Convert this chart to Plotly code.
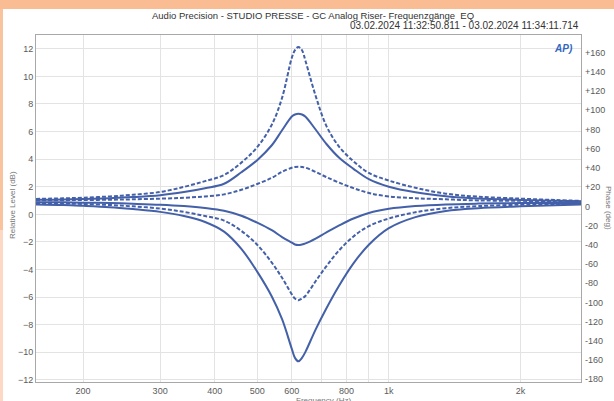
import plotly.graph_objects as go

# ---------------- data ----------------
freq_hz = [156, 180, 200, 230, 260, 300, 340, 380, 420, 460, 500, 540, 570, 600, 610,
           621, 633, 645, 680, 720, 770, 830, 900, 1000, 1150, 1350, 1600, 2000, 2400, 2750]

boost_max = [1.12, 1.16, 1.21, 1.30, 1.42, 1.62, 1.99, 2.41, 2.85, 3.75, 4.87, 6.50, 8.45, 11.35, 11.90,
             12.13, 11.90, 11.10, 8.60, 6.40, 4.90, 3.85, 3.00, 2.45, 1.93, 1.50, 1.28, 1.14, 1.04, 0.98]
boost_mid = [1.06, 1.08, 1.12, 1.17, 1.25, 1.39, 1.62, 1.90, 2.22, 3.05, 3.93, 5.01, 6.10, 7.10, 7.24,
             7.30, 7.24, 7.08, 6.15, 5.10, 4.10, 3.30, 2.55, 2.00, 1.60, 1.32, 1.15, 1.05, 0.98, 0.95]
boost_low = [1.01, 1.03, 1.04, 1.06, 1.09, 1.14, 1.20, 1.30, 1.45, 1.78, 2.20, 2.65, 3.08, 3.38, 3.43,
             3.45, 3.43, 3.38, 3.08, 2.70, 2.30, 1.90, 1.55, 1.30, 1.17, 1.09, 1.01, 0.98, 0.95, 0.92]
cut_low = [0.88, 0.87, 0.85, 0.82, 0.77, 0.70, 0.60, 0.46, 0.26, -0.10, -0.60, -1.15, -1.65, -2.05, -2.18,
           -2.22, -2.18, -2.10, -1.75, -1.30, -0.80, -0.30, 0.10, 0.40, 0.60, 0.72, 0.78, 0.82, 0.83, 0.83]
cut_mid = [0.82, 0.79, 0.75, 0.68, 0.58, 0.42, 0.18, -0.12, -0.45, -1.20, -2.20, -3.50, -4.60, -5.80, -6.10,
           -6.22, -6.10, -5.90, -4.85, -3.75, -2.60, -1.60, -0.85, -0.30, 0.15, 0.45, 0.60, 0.70, 0.74, 0.76]
cut_max = [0.72, 0.68, 0.62, 0.52, 0.38, 0.18, -0.12, -0.55, -1.25, -2.50, -4.15, -5.95, -7.60, -9.75, -10.40,
           -10.65, -10.40, -9.95, -8.35, -6.80, -5.15, -3.55, -2.20, -1.00, -0.20, 0.25, 0.45, 0.58, 0.66, 0.72]

series = [
    ("boost +12", boost_max, "dash"),
    ("boost +7", boost_mid, "solid"),
    ("boost +3", boost_low, "dash"),
    ("cut -2", cut_low, "solid"),
    ("cut -6", cut_mid, "dash"),
    ("cut -11", cut_max, "solid"),
]

x_tickvals = [200, 300, 400, 500, 600, 700, 800, 900, 1000, 2000]
x_ticktext = ["200", "300", "400", "500", "600", "", "800", "", "1k", "2k"]
y_tickvals = [-12, -10, -8, -6, -4, -2, 0, 2, 4, 6, 8, 10, 12]
y2_tickvals = [-180, -160, -140, -120, -100, -80, -60, -40, -20, 0, 20, 40, 60, 80, 100, 120, 140, 160]
y2_ticktext = [("+%d" % v if v > 0 else "%d" % v) for v in y2_tickvals]

title_1 = "Audio Precision - STUDIO PRESSE - GC Analog Riser- Frequenzgänge  EQ"
title_2 = "03.02.2024 11:32:50.811 - 03.02.2024 11:34:11.714"

# ---------------- layout geometry ----------------
W, H = 614, 401
L, R, T, B = 36, 581, 35, 382


def px_x(px):
    return (px - L) / (R - L)


def px_y(py):
    return (B - py) / (B - T)


LINE = "#4360A8"
GRID = "#E3E3E3"
AXIS = "#A8A8A8"
TXT = "#5A5A5A"
FONT = "Liberation Sans"

fig = go.Figure()
for name, vals, dash in series:
    fig.add_trace(go.Scatter(
        x=freq_hz, y=vals, mode="lines", name=name,
        line=dict(color=LINE, width=2, dash=("4px,2px" if dash == "dash" else "solid"),
                  shape="spline", smoothing=1.0),
        showlegend=False, hoverinfo="skip"))

# invisible trace so the phase axis is drawn
fig.add_trace(go.Scatter(x=[freq_hz[0]], y=[0], yaxis="y2", mode="lines",
                         line=dict(width=0), showlegend=False, hoverinfo="skip"))

fig.update_layout(
    width=W, height=H,
    margin=dict(l=L, r=W - R, t=T, b=H - B, pad=0, autoexpand=False),
    paper_bgcolor="white", plot_bgcolor="white",
    font=dict(family=FONT, size=9, color=TXT),
    xaxis=dict(type="log", range=[2.1933, 3.4393],
               tickvals=x_tickvals, ticktext=x_ticktext,
               showgrid=True, gridcolor=GRID, gridwidth=1,
               showline=True, linecolor=AXIS, linewidth=1, mirror=True,
               ticks="", zeroline=False, ticklabelstandoff=0, automargin=False,
               tickfont=dict(size=9, color=TXT)),
    yaxis=dict(range=[-12.15, 13.0], tickvals=y_tickvals,
               showgrid=True, gridcolor=GRID, gridwidth=1,
               showline=True, linecolor=AXIS, linewidth=1, mirror=True,
               ticks="", zeroline=False, automargin=False,
               tickfont=dict(size=9, color=TXT)),
    yaxis2=dict(range=[-182.8, 178.4], overlaying="y", side="right",
                tickvals=y2_tickvals, ticktext=y2_ticktext,
                showgrid=False, zeroline=False, showline=False, ticks="",
                ticklabelstandoff=3, automargin=False,
                tickfont=dict(size=9, color=TXT)),
)

shapes = [
    dict(type="rect", xref="paper", yref="paper", x0=px_x(0), x1=px_x(W), y0=px_y(9), y1=px_y(0),
         fillcolor="#F9BC93", line=dict(width=0), layer="above"),
    dict(type="rect", xref="paper", yref="paper", x0=px_x(0), x1=px_x(3), y0=px_y(230), y1=px_y(9),
         fillcolor="#F9C39E", line=dict(width=0), layer="above"),
    dict(type="rect", xref="paper", yref="paper", x0=px_x(0), x1=px_x(3), y0=px_y(H), y1=px_y(230),
         fillcolor="#FDD8C2", line=dict(width=0), layer="above"),
]
fig.update_layout(shapes=shapes)

annotations = [
    dict(text=title_1, x=px_x(313), y=px_y(15), xref="paper", yref="paper",
         xanchor="center", yanchor="middle", showarrow=False,
         font=dict(size=9.5, color="#333333", family=FONT)),
    dict(text=title_2, x=px_x(581), y=px_y(26), xref="paper", yref="paper",
         xanchor="right", yanchor="middle", showarrow=False,
         font=dict(size=10, color="#333333", family=FONT)),
    dict(text="Relative Level (dB)", x=px_x(12), y=px_y(205), xref="paper", yref="paper",
         xanchor="center", yanchor="middle", textangle=-90, showarrow=False,
         font=dict(size=8, color="#777777", family=FONT)),
    dict(text="Frequency (Hz)", x=px_x(323), y=px_y(400), xref="paper", yref="paper",
         xanchor="center", yanchor="middle", showarrow=False,
         font=dict(size=8, color="#777777", family=FONT)),
    dict(text="Phase (deg)", x=px_x(609), y=px_y(208), xref="paper", yref="paper",
         xanchor="center", yanchor="middle", textangle=90, showarrow=False,
         font=dict(size=8, color="#777777", family=FONT)),
    dict(text="<b><i>AP)</i></b>", x=px_x(563), y=px_y(48), xref="paper", yref="paper",
         xanchor="center", yanchor="middle", showarrow=False,
         font=dict(size=10, color="#3266C0", family=FONT)),
]
fig.update_layout(annotations=annotations)

fig.write_html("out.html")
